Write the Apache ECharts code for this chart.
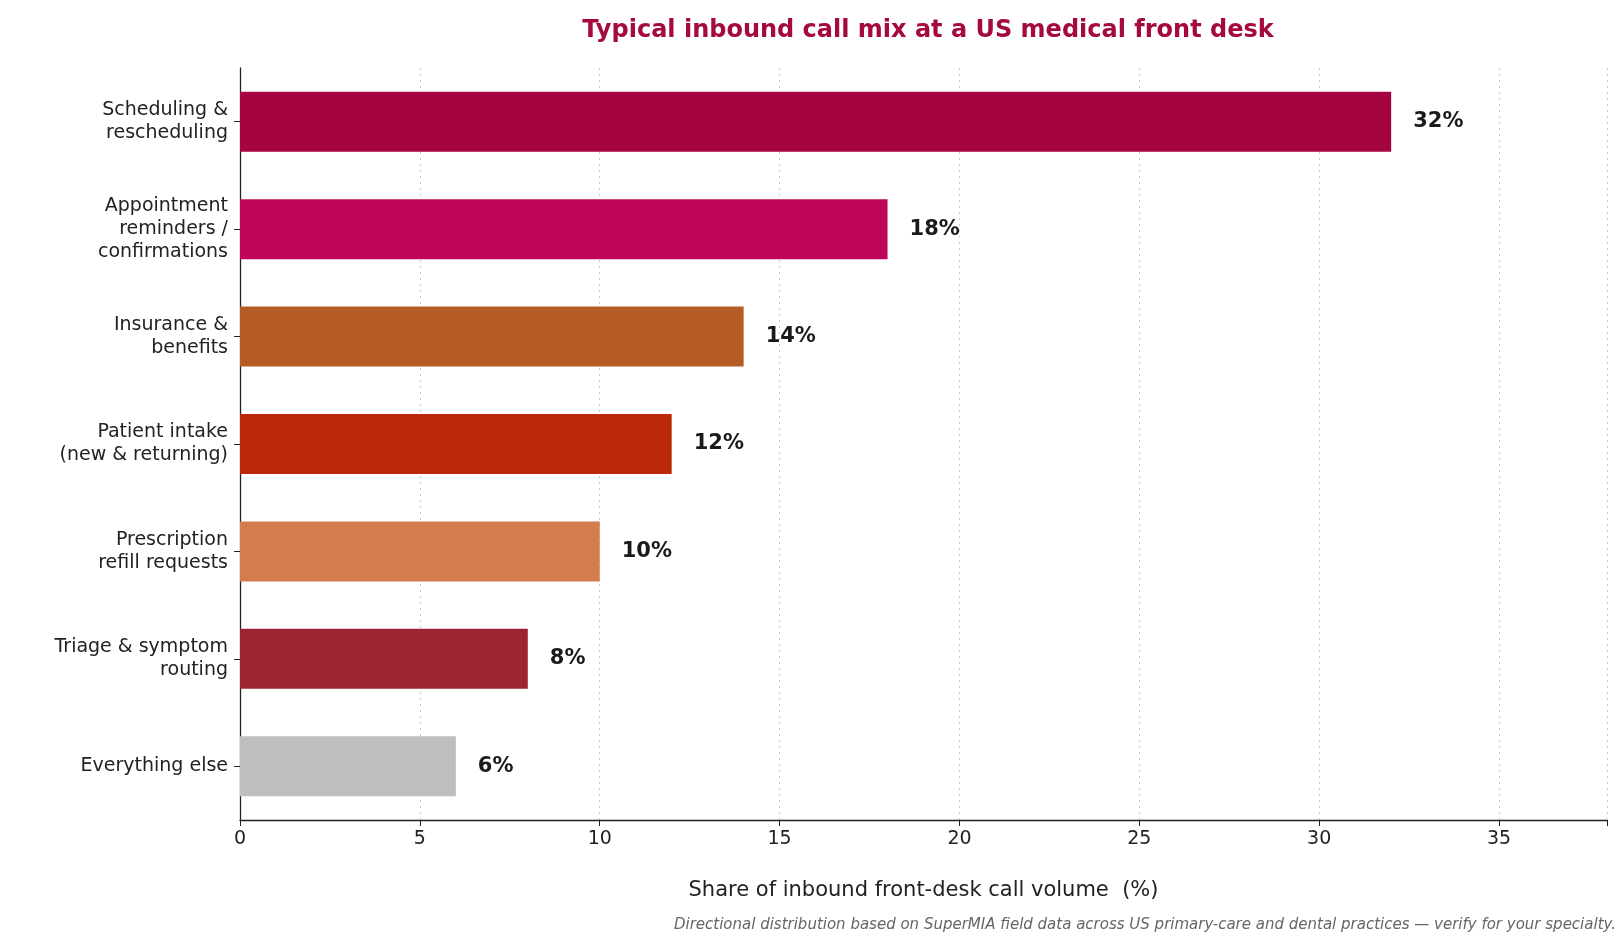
<!DOCTYPE html>
<html><head><meta charset="utf-8">
<script src="https://cdn.jsdelivr.net/npm/echarts@6/dist/echarts.min.js"></script>
<style>html,body{margin:0;padding:0;background:#fff}#c{width:1624px;height:950px}</style>
</head><body><div id="c"></div>
<script>
const categories = ["Scheduling &\nrescheduling","Appointment\nreminders /\nconfirmations","Insurance &\nbenefits","Patient intake\n(new & returning)","Prescription\nrefill requests","Triage & symptom\nrouting","Everything else"];
const values = [32,18,14,12,10,8,6];
const colors = ["#A50440","#BE0657","#B55C25","#BB2807","#D47D4C","#9C2330","#BEBEBE"];
const xTicks = [0,5,10,15,20,25,30,35];
const font = "DejaVu Sans";
const chart = echarts.init(document.getElementById('c'));
chart.setOption({
  animation:false,
  textStyle:{fontFamily:font},
  title:{text:"Typical inbound call mix at a US medical front desk",left:923,textAlign:'center',top:14,
    textStyle:{color:"#A50A3C",fontSize:24,fontWeight:'bold',fontFamily:font}},
  graphic:[{type:'text',right:8,top:918,style:{text:"Directional distribution based on SuperMIA field data across US primary-care and dental practices — verify for your specialty.",
    fill:"#666",font:"italic 15px 'DejaVu Sans'"}}],
  grid:{left:240,right:17,top:68,bottom:130},
  xAxis:{type:'value',min:0,max:38,interval:5,
    axisLine:{show:true,lineStyle:{color:'#222',width:1.3}},
    axisTick:{show:true,length:6,lineStyle:{color:'#222'}},
    axisLabel:{color:'#222',fontSize:19,margin:10,formatter:v=>xTicks.includes(v)?String(v):''},
    splitLine:{show:true,lineStyle:{color:'#ccc',type:[2,4]}},
    name:"Share of inbound front-desk call volume  (%)",nameLocation:'middle',nameGap:60,
    nameTextStyle:{color:'#222',fontSize:21}},
  yAxis:{type:'category',data:categories,inverse:true,
    axisLine:{show:true,lineStyle:{color:'#222',width:1.3}},
    axisTick:{show:true,alignWithLabel:true,length:6,lineStyle:{color:'#222'}},
    axisLabel:{color:'#222',fontSize:19,align:'right',lineHeight:23,margin:12}},
  series:[{type:'bar',barWidth:60,
    data:values.map((v,i)=>({value:v,itemStyle:{color:colors[i]}})),
    label:{show:true,position:'right',distance:22,formatter:p=>p.value+'%',
      fontSize:21,fontWeight:'bold',color:'#1a1a1a'}}]
});
</script></body></html>
